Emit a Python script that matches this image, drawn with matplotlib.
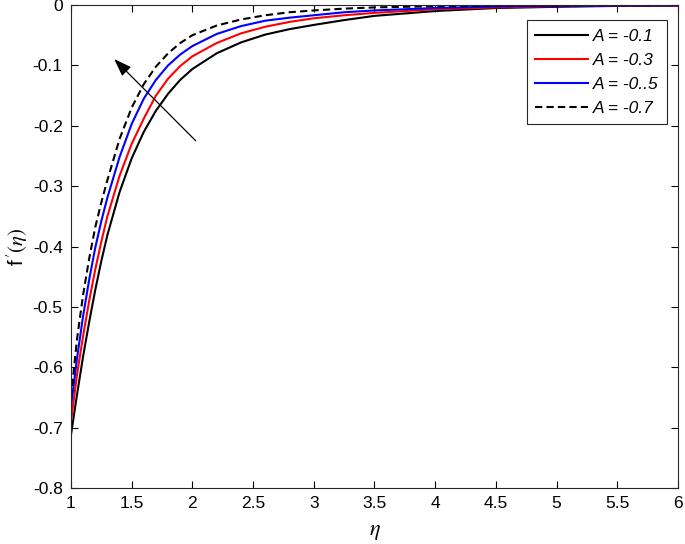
import numpy as np
import matplotlib
matplotlib.use('Agg')
import matplotlib.pyplot as plt

plt.rcParams['font.family'] = ['Liberation Sans', 'DejaVu Sans']
plt.rcParams['mathtext.fontset'] = 'stix'

# eta grid and f'(eta) values
eta = [1.0, 1.05, 1.1, 1.15, 1.2, 1.25, 1.3, 1.4, 1.5, 1.6, 1.7, 1.8, 1.9, 2.0,
       2.2, 2.4, 2.6, 2.8, 3.0, 3.25, 3.5, 4.0, 4.5, 5.0, 5.5, 6.0]
f_a01 = [-0.712, -0.645, -0.582, -0.525, -0.472, -0.424, -0.381, -0.310, -0.254, -0.210,
         -0.175, -0.147, -0.124, -0.106, -0.080, -0.062, -0.049, -0.040, -0.033, -0.025,
         -0.018, -0.010, -0.005, -0.003, -0.0015, -0.001]
f_a03 = [-0.690, -0.612, -0.548, -0.490, -0.438, -0.392, -0.350, -0.283, -0.230, -0.188,
         -0.150, -0.122, -0.101, -0.085, -0.063, -0.047, -0.036, -0.028, -0.022, -0.017,
         -0.013, -0.007, -0.004, -0.002, -0.001, -0.0007]
f_a05 = [-0.665, -0.585, -0.515, -0.455, -0.402, -0.358, -0.319, -0.252, -0.197, -0.155,
         -0.124, -0.100, -0.082, -0.068, -0.048, -0.035, -0.026, -0.021, -0.017, -0.012,
         -0.009, -0.005, -0.0025, -0.0015, -0.001, -0.0005]
f_a07 = [-0.650, -0.553, -0.480, -0.420, -0.368, -0.327, -0.290, -0.222, -0.170, -0.131,
         -0.102, -0.080, -0.063, -0.050, -0.034, -0.024, -0.017, -0.012, -0.009, -0.006,
         -0.004, -0.002, -0.001, -0.0005, -0.0003, -0.0002]
labels = ['A = -0.1', 'A = -0.3', 'A = -0..5', 'A = -0.7']

fig = plt.figure(figsize=(6.85, 5.44), dpi=100)
ax = fig.add_axes([0.1036, 0.1029, 0.8862, 0.8879])

ax.plot(eta, f_a01, color='k', lw=1.5, label=labels[0])
ax.plot(eta, f_a03, color='r', lw=1.5, label=labels[1])
ax.plot(eta, f_a05, color='b', lw=1.5, label=labels[2])
ax.plot(eta, f_a07, color='k', lw=1.5, ls='--', dashes=(3.5, 2), label=labels[3])

# arrow showing increasing |A|
ax.annotate('', xy=(1.356, -0.0895), xytext=(2.028, -0.225),
            arrowprops=dict(arrowstyle='-|>,head_length=0.9,head_width=0.32',
                            color='k', lw=0.9, mutation_scale=12,
                            shrinkA=0, shrinkB=0))

ax.set_xlim(1, 6)
ax.set_ylim(-0.8, 0)
ax.set_xticks(np.arange(1, 6.01, 0.5))
ax.set_xticklabels(['1', '1.5', '2', '2.5', '3', '3.5', '4', '4.5', '5', '5.5', '6'])
ax.set_yticks(np.arange(-0.8, 0.01, 0.1))
ax.set_yticklabels(['-0.8', '-0.7', '-0.6', '-0.5', '-0.4', '-0.3', '-0.2', '-0.1', '0'])
ax.tick_params(direction='in', top=True, right=True, length=5, width=0.8,
               labelsize=12.5, pad=6)
for s in ax.spines.values():
    s.set_linewidth(0.8)
    s.set_color('#262626')

ax.set_xlabel(r'$\eta$', fontsize=16, labelpad=7)
ax.set_ylabel(r"f$\,'(\eta)$", fontsize=15, labelpad=2)

leg = ax.legend(loc='upper right', bbox_to_anchor=(0.982, 0.968), fontsize=12.5,
                handlelength=3.0, handletextpad=0.3, borderpad=0.5,
                labelspacing=0.5, fancybox=False, framealpha=1,
                edgecolor='#262626', borderaxespad=0)
leg.get_frame().set_linewidth(0.8)
for t in leg.get_texts():
    t.set_fontstyle('italic')

plt.savefig('out.png', dpi=100)
